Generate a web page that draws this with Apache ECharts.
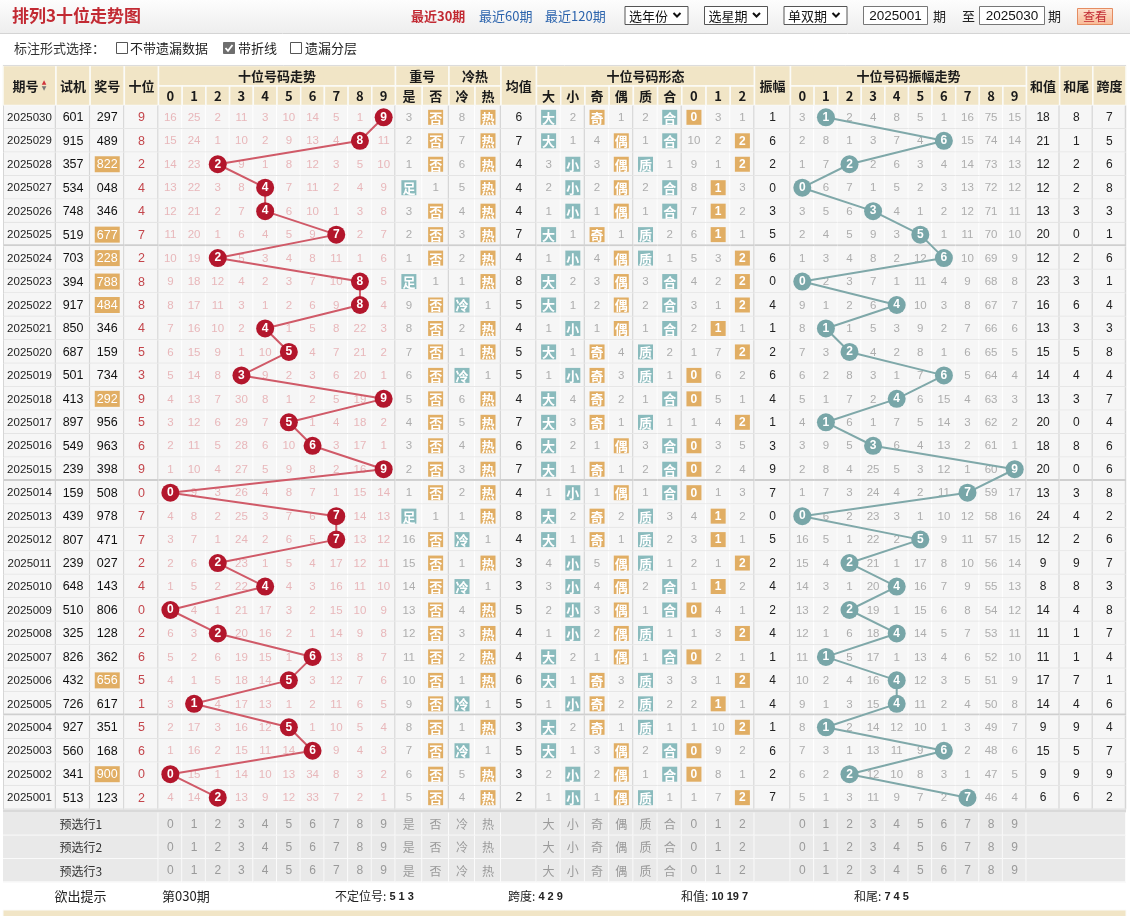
<!DOCTYPE html>
<html>
<head>
<meta charset="utf-8">
<title>排列3十位走势图</title>
<script src="https://cdn.jsdelivr.net/npm/echarts@6/dist/echarts.min.js"></script>
<style>
html,body{margin:0;padding:0;background:#ffffff;}
#chart{width:1130px;height:916px;}
</style>
</head>
<body>
<div id="chart"></div>
<script>
// ================= DATA =================
const periods = ['2025030','2025029','2025028','2025027','2025026','2025025','2025024','2025023','2025022','2025021','2025020','2025019','2025018','2025017','2025016','2025015','2025014','2025013','2025012','2025011','2025010','2025009','2025008','2025007','2025006','2025005','2025004','2025003','2025002','2025001'];
const shiji = ['601','915','357','534','748','519','703','394','917','850','687','501','413','897','549','239','159','439','807','239','648','510','325','826','432','726','927','560','341','513'];
const jianghao = ['297','489','822','048','346','677','228','788','484','346','159','734','292','956','963','398','508','978','471','027','143','806','128','362','656','617','351','168','900','123'];
const shiwei = [9,8,2,4,4,7,2,8,8,4,5,3,9,5,6,9,0,7,7,2,4,0,2,6,5,1,5,6,0,2];
// miss counts of the ten digit, "*" = drawn digit (ball)
const trendMiss = [
'16 25 2 11 3 10 14 5 1 *','15 24 1 10 2 9 13 4 * 11','14 23 * 9 1 8 12 3 5 10','13 22 3 8 * 7 11 2 4 9','12 21 2 7 * 6 10 1 3 8',
'11 20 1 6 4 5 9 * 2 7','10 19 * 5 3 4 8 11 1 6','9 18 12 4 2 3 7 10 * 5','8 17 11 3 1 2 6 9 * 4','7 16 10 2 * 1 5 8 22 3',
'6 15 9 1 10 * 4 7 21 2','5 14 8 * 9 2 3 6 20 1','4 13 7 30 8 1 2 5 19 *','3 12 6 29 7 * 1 4 18 2','2 11 5 28 6 10 * 3 17 1',
'1 10 4 27 5 9 8 2 16 *','* 9 3 26 4 8 7 1 15 14','4 8 2 25 3 7 6 * 14 13','3 7 1 24 2 6 5 * 13 12','2 6 * 23 1 5 4 17 12 11',
'1 5 2 22 * 4 3 16 11 10','* 4 1 21 17 3 2 15 10 9','6 3 * 20 16 2 1 14 9 8','5 2 6 19 15 1 * 13 8 7','4 1 5 18 14 * 3 12 7 6',
'3 * 4 17 13 1 2 11 6 5','2 17 3 16 12 * 1 10 5 4','1 16 2 15 11 14 * 9 4 3','* 15 1 14 10 13 34 8 3 2','4 14 * 13 9 12 33 7 2 1'];
// 重号(是/否) + 冷热(冷/热); "#" = highlighted box
const chongRe = [
'3 #否 8 #热','2 #否 7 #热','1 #否 6 #热','#足 1 5 #热','3 #否 4 #热','2 #否 3 #热','1 #否 2 #热','#足 1 1 #热','9 #否 #冷 1','8 #否 2 #热',
'7 #否 1 #热','6 #否 #冷 1','5 #否 6 #热','4 #否 5 #热','3 #否 4 #热','2 #否 3 #热','1 #否 2 #热','#足 1 1 #热','16 #否 #冷 1','15 #否 1 #热',
'14 #否 #冷 1','13 #否 4 #热','12 #否 3 #热','11 #否 2 #热','10 #否 1 #热','9 #否 #冷 1','8 #否 1 #热','7 #否 #冷 1','6 #否 5 #热','5 #否 4 #热'];
const junzhi = [6,7,4,4,4,7,4,8,5,4,5,5,4,7,6,7,4,8,4,3,3,5,4,4,6,5,3,5,3,2];
const xingtai = [
'#大 2 #奇 1 2 #合 #0 3 1','#大 1 4 #偶 1 #合 10 2 #2','3 #小 3 #偶 #质 1 9 1 #2','2 #小 2 #偶 2 #合 8 #1 3','1 #小 1 #偶 1 #合 7 #1 2',
'#大 1 #奇 1 #质 2 6 #1 1','1 #小 4 #偶 #质 1 5 3 #2','#大 2 3 #偶 3 #合 4 2 #2','#大 1 2 #偶 2 #合 3 1 #2','1 #小 1 #偶 1 #合 2 #1 1',
'#大 1 #奇 4 #质 2 1 7 #2','1 #小 #奇 3 #质 1 #0 6 2','#大 4 #奇 2 1 #合 #0 5 1','#大 3 #奇 1 #质 1 1 4 #2','#大 2 1 #偶 3 #合 #0 3 5',
'#大 1 #奇 1 2 #合 #0 2 4','1 #小 1 #偶 1 #合 #0 1 3','#大 2 #奇 2 #质 3 4 #1 2','#大 1 #奇 1 #质 2 3 #1 1','4 #小 5 #偶 #质 1 2 1 #2',
'3 #小 4 #偶 2 #合 1 #1 2','2 #小 3 #偶 1 #合 #0 4 1','1 #小 2 #偶 #质 1 1 3 #2','#大 2 1 #偶 1 #合 #0 2 1','#大 1 #奇 3 #质 3 3 1 #2',
'1 #小 #奇 2 #质 2 2 #1 1','#大 2 #奇 1 #质 1 1 10 #2','#大 1 3 #偶 2 #合 #0 9 2','2 #小 2 #偶 1 #合 #0 8 1','1 #小 1 #偶 #质 1 1 7 #2'];
const zhenfu = [1,6,2,0,3,5,6,0,4,1,2,6,4,1,3,9,7,0,5,2,4,2,4,1,4,4,1,6,2,7];
const zhenfuMiss = [
'3 * 2 4 8 5 1 16 75 15','2 8 1 3 7 4 * 15 74 14','1 7 * 2 6 3 4 14 73 13','* 6 7 1 5 2 3 13 72 12','3 5 6 * 4 1 2 12 71 11',
'2 4 5 9 3 * 1 11 70 10','1 3 4 8 2 12 * 10 69 9','* 2 3 7 1 11 4 9 68 8','9 1 2 6 * 10 3 8 67 7','8 * 1 5 3 9 2 7 66 6',
'7 3 * 4 2 8 1 6 65 5','6 2 8 3 1 7 * 5 64 4','5 1 7 2 * 6 15 4 63 3','4 * 6 1 7 5 14 3 62 2','3 9 5 * 6 4 13 2 61 1',
'2 8 4 25 5 3 12 1 60 *','1 7 3 24 4 2 11 * 59 17','* 6 2 23 3 1 10 12 58 16','16 5 1 22 2 * 9 11 57 15','15 4 * 21 1 17 8 10 56 14',
'14 3 1 20 * 16 7 9 55 13','13 2 * 19 1 15 6 8 54 12','12 1 6 18 * 14 5 7 53 11','11 * 5 17 1 13 4 6 52 10','10 2 4 16 * 12 3 5 51 9',
'9 1 3 15 * 11 2 4 50 8','8 * 2 14 12 10 1 3 49 7','7 3 1 13 11 9 * 2 48 6','6 2 * 12 10 8 3 1 47 5','5 1 3 11 9 7 2 * 46 4'];
const hezhi = [18,21,12,12,13,20,12,23,16,13,15,14,13,20,18,20,13,24,12,9,8,14,11,11,17,14,9,15,9,6];
const hewei = [8,1,2,2,3,0,2,3,6,3,5,4,3,0,8,0,3,4,2,9,8,4,1,1,7,4,9,5,9,6];
const kuadu = [7,5,6,8,3,1,6,1,4,3,8,4,7,4,6,6,8,2,6,7,3,8,7,4,1,6,4,7,9,2];
const digitHead = ['0','1','2','3','4','5','6','7','8','9'];
const xingtaiHead = ['大','小','奇','偶','质','合','0','1','2'];
const preRows = ['预选行1','预选行2','预选行3'];
const hintTitle = '欲出提示';
const hintPeriod = '第030期';
const hintLabels = ['不定位号','跨度','和值','和尾'];
const hintValues = ['5 1 3','4 2 9','10 19 7','7 4 5'];

// ================= STYLE / LAYOUT =================
const FONT_CJK = '"Noto Sans CJK SC","Noto Sans",sans-serif';
const FONT_NUM = '"Liberation Sans","DejaVu Sans",sans-serif';
const ORANGE = '#e1ae64', TEAL = '#8abbbd', BEIGE = '#f1e5c6';
const BOX_COLOR = {'足':TEAL,'否':ORANGE,'冷':TEAL,'热':ORANGE,'大':TEAL,'小':TEAL,'奇':ORANGE,'偶':ORANGE,'质':TEAL,'合':TEAL,'0':ORANGE,'1':ORANGE,'2':ORANGE};
const MISS_PINK = '#e8b7ba', MISS_GRAY = '#adadad';
const HEAD_TOP = 65.5, HEAD_MID = 86, MAIN_TOP = 105.6, MAIN_H = 703.8;
const BOT_TOP = 812.3, BOT_H = 70;

const sections = [
  {id:'qh', x0:3,      x1:56,     head:['期号'], group:'', gray:[]},
  {id:'kj', x0:56,     x1:158.5,  head:['试机','奖号','十位'], group:'', gray:[0,1]},
  {id:'zs', x0:158.5,  x1:395.5,  head:digitHead, group:'十位号码走势', gray:[]},
  {id:'ch', x0:395.5,  x1:449,    head:['是','否'], group:'重号', gray:[]},
  {id:'lr', x0:449,    x1:501,    head:['冷','热'], group:'冷热', gray:[]},
  {id:'jz', x0:501,    x1:536.5,  head:['均值'], group:'', gray:[]},
  {id:'xt', x0:536.5,  x1:754.5,  head:xingtaiHead, group:'十位号码形态', gray:[1,3,5]},
  {id:'zf', x0:754.5,  x1:790.5,  head:['振幅'], group:'', gray:[]},
  {id:'zz', x0:790.5,  x1:1026.5, head:digitHead, group:'十位号码振幅走势', gray:[]},
  {id:'hz', x0:1026.5, x1:1126,   head:['和值','和尾','跨度'], group:'', gray:[0,1]}
];

function tokCell(tok, c, r, color, fs) {
  if (tok === '*') return {c:c, r:r, t:''};
  if (tok[0] === '#') { const t = tok.slice(1); return {c:c, r:r, t:t, box:BOX_COLOR[t]}; }
  return {c:c, r:r, t:tok, color:color, fs:fs};
}
function rowsToCells(rows, color, fs, from, to) {
  const out = [];
  rows.forEach(function (s, r) {
    const tk = s.split(' ').slice(from || 0, to);
    tk.forEach(function (tok, c) { out.push(tokCell(tok, c, r, color, fs)); });
  });
  return out;
}
function colCells(arrs, color, fs) {
  const out = [];
  periods.forEach(function (_, r) {
    arrs.forEach(function (a, c) { out.push({c:c, r:r, t:String(a[r]), color:color, fs:fs}); });
  });
  return out;
}

const mainCells = {
  qh: periods.map(function (p, r) { return {c:0, r:r, t:p, color:'#222', fs:11.5}; }),
  kj: (function () {
    const out = [];
    periods.forEach(function (_, r) {
      const dup = new Set(jianghao[r].split('')).size < 3;
      out.push({c:0, r:r, t:shiji[r], color:'#111', fs:12.5});
      out.push({c:1, r:r, t:jianghao[r], color:'#111', fs:12.5, box: dup ? ORANGE : null, bw:25, bh:16, plain:true});
      out.push({c:2, r:r, t:String(shiwei[r]), color:'#c4464c', fs:12.5});
    });
    return out;
  })(),
  zs: rowsToCells(trendMiss, MISS_PINK, 11.5),
  ch: rowsToCells(chongRe, MISS_GRAY, 11.5, 0, 2),
  lr: rowsToCells(chongRe, MISS_GRAY, 11.5, 2, 4),
  jz: colCells([junzhi], '#222', 12),
  xt: rowsToCells(xingtai, MISS_GRAY, 11.5),
  zf: colCells([zhenfu], '#222', 12),
  zz: rowsToCells(zhenfuMiss, MISS_GRAY, 11.5),
  hz: colCells([hezhi, hewei, kuadu], '#222', 12)
};

function cellRenderer(cells, nCols, grayCols, theme) {
  return function (params, api) {
    const o = cells[params.dataIndex];
    const p = api.coord([o.c, o.r]);
    const s = api.size([1, 1]);
    const w = s[0], h = s[1];
    const x = p[0] - w / 2, y = p[1] - h / 2;
    const kids = [{type:'rect', shape:{x:x, y:y, width:w, height:h}, style:{fill:theme.bg}}];
    const grayR = theme.sectionLines && (o.c === nCols - 1 || grayCols.indexOf(o.c) >= 0);
    kids.push({type:'line', shape:{x1:x + w - 0.5, y1:y, x2:x + w - 0.5, y2:y + h},
      style:{stroke: grayR ? '#d6d6d6' : theme.vLine, lineWidth: grayR ? 1.5 : 1}});
    const sep = theme.sepRows && theme.sepRows.indexOf(o.r) >= 0;
    kids.push({type:'line', shape:{x1:x, y1:y + h - (sep ? 1 : 0.5), x2:x + w, y2:y + h - (sep ? 1 : 0.5)},
      style:{stroke: sep ? '#cfcfcf' : theme.hLine, lineWidth: sep ? 2 : 1}});
    if (theme.leftBorder && o.c === 0) {
      kids.push({type:'line', shape:{x1:x + 0.5, y1:y, x2:x + 0.5, y2:y + h}, style:{stroke:'#d6d6d6', lineWidth:1}});
    }
    if (o.t !== '') {
      const cjk = /[^\x00-\x7f]/.test(o.t);
      const ff = cjk ? FONT_CJK : FONT_NUM;
      if (o.box) {
        const bw = o.bw || 15, bh = o.bh || 15;
        kids.push({type:'rect', shape:{x:p[0] - bw / 2, y:p[1] - bh / 2, width:bw, height:bh}, style:{fill:o.box}});
        kids.push({type:'text', style:{text:o.t, x:p[0], y:p[1] + 0.5, align:'center', verticalAlign:'middle',
          fill:'#ffffff', fontSize: o.fs || (cjk ? 13 : 12), fontWeight: o.plain ? 'normal' : 'bold', fontFamily:ff}});
      } else {
        kids.push({type:'text', style:{text:o.t, x:p[0], y:p[1] + 0.5, align:'center', verticalAlign:'middle',
          fill:o.color, fontSize:o.fs || 12, fontWeight:o.fw || 'normal', fontFamily:ff}});
      }
    }
    return {type:'group', children:kids};
  };
}

const grids = [], xAxes = [], yAxes = [], series = [];
const mainTheme = {bg:'#f6f6f6', vLine:'#ffffff', hLine:'#e4e4e4', sectionLines:true, sepRows:[5, 15, 25]};

sections.forEach(function (sec, i) {
  grids.push({left:sec.x0, top:MAIN_TOP, width:sec.x1 - sec.x0, height:MAIN_H, show:false, containLabel:false});
  const isQh = sec.id === 'qh';
  xAxes.push({
    type:'category', gridIndex:i, position:'top', data:sec.head, z:20,
    axisLine:{show:false}, axisTick:{show:false}, splitLine:{show:false},
    axisLabel:{interval:0, margin: sec.group ? 10 : 20, verticalAlign:'middle', fontSize:13, fontWeight:'bold',
      color:'#1a1a1a', fontFamily:FONT_CJK,
      formatter: isQh ? function (v) { return '{t|' + v + '}{s|}'; } : null,
      rich: isQh ? {t:{fontSize:13, fontWeight:'bold', color:'#1a1a1a', fontFamily:FONT_CJK}, s:{width:8}} : undefined},
    name: sec.group, nameLocation:'middle', nameGap:30,
    nameTextStyle:{fontSize:13, fontWeight:'bold', color:'#1a1a1a', fontFamily:FONT_CJK, verticalAlign:'middle'}
  });
  yAxes.push({type:'category', gridIndex:i, inverse:true, data:periods, show:false});
  const cells = mainCells[sec.id];
  const theme = Object.assign({}, mainTheme, {leftBorder: i === 0});
  series.push({
    type:'custom', xAxisIndex:i, yAxisIndex:i, z:2, silent:true,
    data: cells.map(function (o) { return [o.c, o.r]; }),
    renderItem: cellRenderer(cells, sec.head.length, sec.gray, theme)
  });
});

// trend lines with balls (drawn through the category axes of the two trend grids)
series.push({
  type:'line', xAxisIndex:2, yAxisIndex:2, z:5, silent:true,
  data: shiwei.map(function (d, r) { return [d, r]; }),
  symbol:'circle', symbolSize:18,
  lineStyle:{color:'#d05a68', width:2},
  itemStyle:{color:'#b3162c'},
  label:{show:true, position:'inside', formatter:function (p) { return p.value[0]; },
    color:'#ffffff', fontWeight:'bold', fontSize:12, fontFamily:FONT_NUM},
  emphasis:{disabled:true}
});
series.push({
  type:'line', xAxisIndex:8, yAxisIndex:8, z:5, silent:true,
  data: zhenfu.map(function (d, r) { return [d, r]; }),
  symbol:'circle', symbolSize:18,
  lineStyle:{color:'#7fa8a9', width:2},
  itemStyle:{color:'#78a6a8'},
  label:{show:true, position:'inside', formatter:function (p) { return p.value[0]; },
    color:'#ffffff', fontWeight:'bold', fontSize:12, fontFamily:FONT_NUM},
  emphasis:{disabled:true}
});

// bottom "预选行" rows
const botSpecs = [
  {x0:3, x1:158.5, head:['label']},
  {x0:158.5, x1:395.5, head:digitHead},
  {x0:395.5, x1:449, head:['是','否']},
  {x0:449, x1:501, head:['冷','热']},
  {x0:501, x1:536.5, head:['']},
  {x0:536.5, x1:754.5, head:xingtaiHead},
  {x0:754.5, x1:790.5, head:['']},
  {x0:790.5, x1:1026.5, head:digitHead},
  {x0:1026.5, x1:1126, head:['']}
];
const botTheme = {bg:'#e9e9e9', vLine:'#fbfbfb', hLine:'#fbfbfb', sectionLines:false};
botSpecs.forEach(function (b, j) {
  const gi = sections.length + j;
  grids.push({left:b.x0, top:BOT_TOP, width:b.x1 - b.x0, height:BOT_H, show:false});
  xAxes.push({type:'category', gridIndex:gi, data:b.head, show:false});
  yAxes.push({type:'category', gridIndex:gi, inverse:true, data:preRows, show:false});
  const cells = [];
  preRows.forEach(function (lab, r) {
    b.head.forEach(function (h, c) {
      if (j === 0) cells.push({c:c, r:r, t:lab, color:'#333', fs:12});
      else cells.push({c:c, r:r, t:h, color:'#9a9a9a', fs:12});
    });
  });
  series.push({
    type:'custom', xAxisIndex:gi, yAxisIndex:gi, z:2, silent:true,
    data: cells.map(function (o) { return [o.c, o.r]; }),
    renderItem: cellRenderer(cells, b.head.length, [], botTheme)
  });
});

// ================= STATIC PAGE ELEMENTS (graphic) =================
const G = [];
function gt(text, x, y, o) {
  o = o || {};
  G.push({type:'text', x:x, y:y, z:o.z || 10, silent:true,
    style:{text:text, fill:o.color || '#333', fontSize:o.fs || 13, fontWeight:o.fw || 'normal',
      fontFamily:o.ff || FONT_CJK, align:o.align || 'left', textAlign:o.align || 'left',
      verticalAlign:'middle', textVerticalAlign:'middle', rich:o.rich}});
}
function grect(x, y, w, h, style, z) {
  G.push({type:'rect', z:z || 1, silent:true, shape:{x:x, y:y, width:w, height:h}, style:style});
}
function gline(x1, y1, x2, y2, stroke, lw, z) {
  G.push({type:'line', z:z || 3, silent:true, shape:{x1:x1, y1:y1, x2:x2, y2:y2}, style:{stroke:stroke, lineWidth:lw || 1}});
}
function gpoly(points, stroke, lw, z) {
  G.push({type:'polyline', z:z || 11, silent:true, shape:{points:points}, style:{stroke:stroke, lineWidth:lw || 1, fill:null}});
}

// title bar
grect(0, 0, 1130, 33, {fill:{type:'linear', x:0, y:0, x2:0, y2:1, colorStops:[{offset:0, color:'#fdfdfd'}, {offset:1, color:'#eeeeee'}]}});
gline(0, 33.5, 1130, 33.5, '#d4d4d4', 1);
gt('排列3十位走势图', 12, 16, {fs:17, fw:'bold', color:'#c22a33'});
gt('最近30期', 411, 16, {fs:13, fw:'bold', color:'#c22a33'});
gt('最近60期', 479, 16, {fs:13, color:'#2c64ad'});
gt('最近120期', 545, 16, {fs:13, color:'#2c64ad'});
[['选年份', 625], ['选星期', 704.5], ['单双期', 784]].forEach(function (s) {
  grect(s[1], 6.5, 63, 18, {fill:'#ffffff', stroke:'#555', lineWidth:1}, 5);
  gt(s[0], s[1] + 4, 16, {fs:13, color:'#111'});
  gpoly([[s[1] + 48.5, 13], [s[1] + 52, 16.5], [s[1] + 55.5, 13]], '#111', 2);
});
grect(863.5, 6.5, 64, 18, {fill:'#ffffff', stroke:'#777', lineWidth:1}, 5);
gt('2025001', 895.5, 16, {fs:13.5, ff:FONT_NUM, color:'#111', align:'center'});
gt('期', 933, 16, {fs:13, color:'#222'});
gt('至', 962, 16, {fs:13, color:'#222'});
grect(979.5, 6.5, 65, 18, {fill:'#ffffff', stroke:'#777', lineWidth:1}, 5);
gt('2025030', 1012, 16, {fs:13.5, ff:FONT_NUM, color:'#111', align:'center'});
gt('期', 1048, 16, {fs:13, color:'#222'});
grect(1077.5, 8.5, 35, 16, {fill:{type:'linear', x:0, y:0, x2:0, y2:1, colorStops:[{offset:0, color:'#fde3d2'}, {offset:1, color:'#f8b994'}]}, stroke:'#e58c61', lineWidth:1}, 5);
gt('查看', 1095, 16.5, {fs:12, color:'#c22a33', align:'center'});

// options row
gt('标注形式选择：', 14, 48.5, {fs:13, color:'#333'});
grect(116.5, 42.5, 11, 11, {fill:'#ffffff', stroke:'#555', lineWidth:1, r:2}, 5);
gt('不带遗漏数据', 130, 48.5, {fs:13, color:'#222'});
grect(223.5, 42.5, 11, 11, {fill:'#6e6e6e', stroke:'#6e6e6e', lineWidth:1, r:2}, 5);
gpoly([[225.5, 48], [228, 50.8], [232.5, 45]], '#ffffff', 1.8);
gt('带折线', 238, 48.5, {fs:13, color:'#222'});
grect(290.5, 42.5, 11, 11, {fill:'#ffffff', stroke:'#555', lineWidth:1, r:2}, 5);
gt('遗漏分层', 305, 48.5, {fs:13, color:'#222'});

// header cells background
sections.forEach(function (sec) {
  const w = sec.x1 - sec.x0, n = sec.head.length, cw = w / n;
  const st = {fill:BEIGE, stroke:'#fbfbf8', lineWidth:1.5};
  if (sec.group) {
    grect(sec.x0, HEAD_TOP, w, HEAD_MID - HEAD_TOP, st, 0);
    for (let k = 0; k < n; k++) grect(sec.x0 + k * cw, HEAD_MID, cw, MAIN_TOP - HEAD_MID, st, 0);
  } else {
    for (let k = 0; k < n; k++) grect(sec.x0 + k * cw, HEAD_TOP, cw, MAIN_TOP - HEAD_TOP, st, 0);
  }
});
gline(3, HEAD_TOP, 1126, HEAD_TOP, '#dcdcdc', 1, 0);
// sort arrows beside 期号
gt('▲', 44, 82.5, {fs:6, ff:'"DejaVu Sans",sans-serif', color:'#d0343c', align:'center', z:30});
gt('▼', 44, 88.5, {fs:6, ff:'"DejaVu Sans",sans-serif', color:'#777', align:'center', z:30});

// gap between data rows and 预选行
grect(3, MAIN_TOP + MAIN_H, 1123, BOT_TOP - MAIN_TOP - MAIN_H, {fill:'#d9d9d9'}, 4);

// hint row
const HINT_Y = 896.5;
gt(hintTitle, 80.5, HINT_Y, {fs:13, color:'#222', align:'center'});
gt(hintPeriod, 162, HINT_Y, {fs:13, color:'#222'});
hintLabels.forEach(function (lab, k) {
  gt('{l|' + lab + ':}{v| ' + hintValues[k] + '}', 335 + k * 173, HINT_Y, {
    fs:12, color:'#222',
    rich:{l:{fontSize:12, fontFamily:FONT_CJK, color:'#222'}, v:{fontSize:11, fontWeight:'bold', fontFamily:FONT_NUM, color:'#222'}}
  });
});
// next header band (cut off at page bottom)
grect(3, 910, 1123, 8, {fill:BEIGE, stroke:'#fbfbf8', lineWidth:1}, 1);

// ================= CHART =================
const chart = echarts.init(document.getElementById('chart'), null, {renderer:'canvas'});
chart.setOption({
  animation:false,
  backgroundColor:'#ffffff',
  grid:grids,
  xAxis:xAxes,
  yAxis:yAxes,
  series:series,
  graphic:{z:-1, elements:G}
});
</script>
</body>
</html>
